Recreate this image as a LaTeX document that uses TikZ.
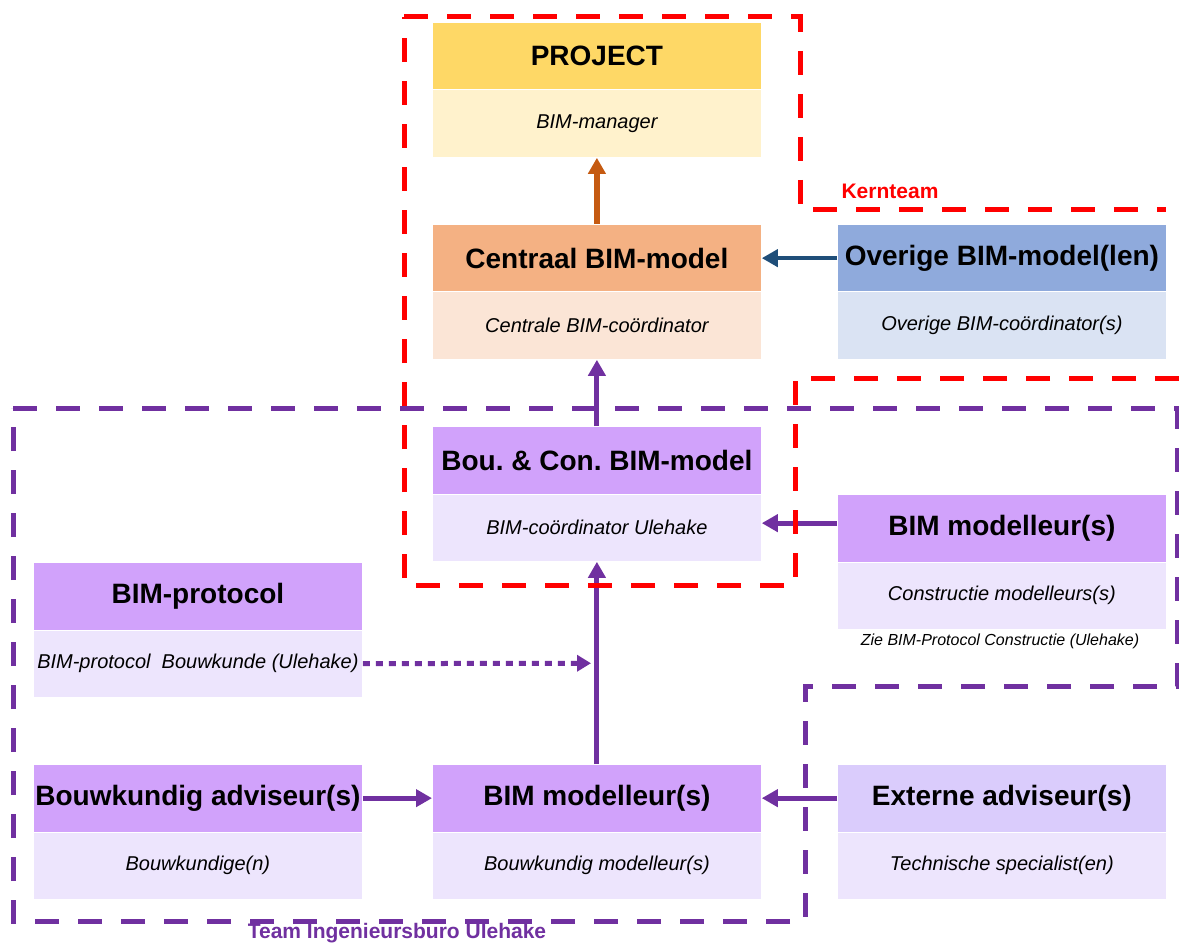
\documentclass[tikz,border=0pt]{standalone}
\usepackage{fontspec}
\setmainfont{Liberation Sans}
\usetikzlibrary{arrows.meta}
\frenchspacing
\definecolor{projH}{RGB}{254,216,102}
\definecolor{projB}{RGB}{255,242,204}
\definecolor{centH}{RGB}{244,177,131}
\definecolor{centB}{RGB}{251,229,214}
\definecolor{overH}{RGB}{143,170,220}
\definecolor{overB}{RGB}{218,227,243}
\definecolor{purH}{RGB}{209,162,251}
\definecolor{purB}{RGB}{237,229,253}
\definecolor{extH}{RGB}{218,204,252}
\definecolor{arrOr}{RGB}{197,90,17}
\definecolor{arrBl}{RGB}{31,78,121}
\definecolor{purL}{RGB}{112,48,160}
\definecolor{kred}{RGB}{255,0,0}
\begin{document}
\begin{tikzpicture}[x=1pt,y=-1pt,
  hdr/.style={draw=white, line width=0.8pt, minimum width=329pt, minimum height=67.5pt, inner sep=0pt, anchor=north west, font=\fontsize{28}{32}\selectfont\bfseries},
  bdy/.style={draw=white, line width=0.8pt, minimum width=329pt, minimum height=67.5pt, inner sep=0pt, anchor=north west, font=\fontsize{20}{24}\selectfont\itshape},
  conn/.style={line width=5pt, -{Triangle[length=16pt,width=17pt]}},
  grp/.style={line width=5pt, dash pattern=on 24pt off 19pt}
]
\useasboundingbox (0,0) rectangle (1179,944);

% boxes
\node[hdr, fill=projH] (projH) at (432,22) {PROJECT};
\node[bdy, fill=projB] (projB) at (432,89.5) {BIM-manager};

\node[hdr, fill=centH] (centH) at (432,224) {Centraal BIM-model};
\node[bdy, fill=centB] (centB) at (432,291.5) {Centrale BIM-coördinator};

\node[hdr, fill=overH] (overH) at (837,224) {Overige BIM-model(len)};
\node[bdy, fill=overB] (overB) at (837,291.5) {Overige BIM-coördinator(s)};

\node[hdr, fill=purH] (bouH) at (432,426) {Bou. \& Con. BIM-model};
\node[bdy, fill=purB] (bouB) at (432,493.5) {BIM-coördinator Ulehake};

\node[hdr, fill=purH] (modRH) at (837,494) {BIM modelleur(s)};
\node[bdy, fill=purB] (modRB) at (837,561.5) {Constructie modelleurs(s)};

\node[hdr, fill=purH] (protH) at (33,562) {BIM-protocol};
\node[bdy, fill=purB] (protB) at (33,629.5) {BIM-protocol\ \ Bouwkunde (Ulehake)};

\node[hdr, fill=purH] (bwkH) at (33,764) {Bouwkundig adviseur(s)};
\node[bdy, fill=purB] (bwkB) at (33,831.5) {Bouwkundige(n)};

\node[hdr, fill=purH] (modCH) at (432,764) {BIM modelleur(s)};
\node[bdy, fill=purB] (modCB) at (432,831.5) {Bouwkundig modelleur(s)};

\node[hdr, fill=extH] (extH) at (837,764) {Externe adviseur(s)};
\node[bdy, fill=purB] (extB) at (837,831.5) {Technische specialist(en)};

% labels
\node[anchor=base, font=\fontsize{16}{19}\selectfont\itshape] (zie) at (1000,645) {Zie BIM-Protocol Constructie (Ulehake)};
\node[anchor=base, text=kred, font=\fontsize{21}{24}\selectfont\bfseries] (kern) at (890,199) {Kernteam};
\node[anchor=base, text=purL, font=\fontsize{21}{24}\selectfont\bfseries] (team) at (397,938.5) {Team Ingenieursburo Ulehake};

% connectors
\draw[conn, arrOr, line width=6pt] (centH.north) -- (projB.south);
\draw[conn, arrBl, line width=4pt] (overH.west) -- (centH.east);
\draw[conn, purL] (bouH.north) -- (centB.south);
\draw[conn, purL] (modCH.north) -- (bouB.south);
\draw[conn, purL] ([yshift=5pt]modRH.west) -- ([yshift=5pt]modRH.west -| bouB.east);
\draw[conn, purL] (bwkH.east) -- (modCH.west);
\draw[conn, purL] (extH.west) -- (modCH.east);
\coordinate (dotEnd) at (591,663.25);
\draw[purL, line width=5pt, dash pattern=on 7pt off 6pt] (protB.east) -- ([xshift=-14pt]dotEnd);
\draw[purL, line width=5pt, -{Triangle[length=14pt,width=16pt]}] ([xshift=-14pt]dotEnd) -- (dotEnd);

% groups
\draw[grp, purL] (13,408) -- (1177,408) -- (1177,686) -- (805,686) -- (805,921) -- (13,921) -- cycle;
\draw[grp, kred] (404,17) -- (800,17) -- (800,210) -- (1166,210);
\draw[grp, kred] (1179,378) -- (795,378) -- (795,585) -- (404,585) -- (404,17);
\end{tikzpicture}
\end{document}
